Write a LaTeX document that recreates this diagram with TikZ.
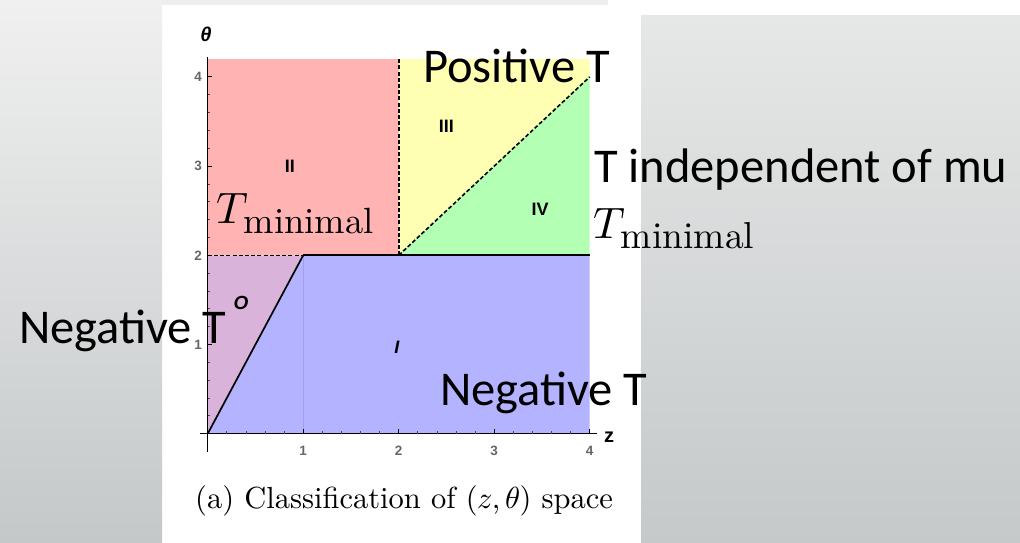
\documentclass[tikz,border=0pt]{standalone}
\usepackage{fontspec}
\newfontfamily\calfont{Carlito}
\newfontfamily\tickfont{Liberation Sans}
\newfontfamily\lmmath{latinmodern-math.otf}
\newfontfamily\lmten{lmroman10-regular.otf}
\definecolor{cO}{RGB}{217,179,217}
\definecolor{cI}{RGB}{179,179,255}
\definecolor{cII}{RGB}{255,179,179}
\definecolor{cIII}{RGB}{255,255,179}
\definecolor{cIV}{RGB}{179,255,179}
\definecolor{bgtop}{RGB}{240,240,240}
\definecolor{bgbot}{RGB}{196,200,201}
\definecolor{bgrtop}{RGB}{230,231,231}
\definecolor{bgrbot}{RGB}{197,201,202}
\definecolor{strip}{RGB}{238,238,238}
\definecolor{faint}{RGB}{160,160,240}
\begin{document}
\begin{tikzpicture}[x=1pt,y=-1pt,
  overlaytext/.style={font=\calfont\fontsize{48.5}{48.5}\selectfont, inner sep=0pt, anchor=base west},
  ticklab/.style={font=\tickfont\bfseries\fontsize{13.5}{13.5}\selectfont, text=black!60, inner sep=0pt},
  reglab/.style={font=\tickfont\bfseries\fontsize{18}{18}\selectfont, inner sep=0pt},
  bound/.style={line width=1.7pt, black},
  dbound/.style={line width=1.6pt, black, dash pattern=on 4pt off 2.2pt},
  axisline/.style={line width=1.5pt, black},
  tmin/.style={inner sep=0pt, anchor=base west}]
\useasboundingbox (0,0) rectangle (1020,543);
\fill[white] (0,0) rectangle (1020,543);
\shade[top color=bgtop, bottom color=bgbot] (0,0) rectangle (162,543);
\fill[strip] (162,0) rectangle (608,5);
\shade[top color=bgrtop, bottom color=bgrbot] (641,16) rectangle (1020,543);

\begin{scope}[shift={(207.7,433.7)}, x=95.5pt, y=89.2pt]
  \coordinate (p00) at (0,0);
  \coordinate (p12) at (1,2);
  \coordinate (p02) at (0,2);
  \coordinate (p42) at (4,2);
  \coordinate (p22) at (2,2);
  \coordinate (p2t) at (2,4.2);
  \coordinate (p44) at (4,4);
  \coordinate (p10) at (1,0);
  \coordinate (xs) at (-0.08,0);
  \coordinate (xe) at (4.08,0);
  \coordinate (ys) at (0,-0.2);
  \coordinate (ye) at (0,4.22);
  \fill[cO] (0,0) -- (1,2) -- (0,2) -- cycle;
  \fill[cI] (0,0) -- (4,0) -- (4,2) -- (1,2) -- cycle;
  \fill[cII] (0,2) rectangle (2,4.2);
  \fill[cIII] (2,2) -- (2,4.2) -- (4,4.2) -- (4,4) -- cycle;
  \fill[cIV] (2,2) -- (4,4) -- (4,2) -- cycle;
  \draw[faint, line width=0.6pt] (p10) -- (p12);
  \draw[dbound] (p02) -- (p12);
  \draw[bound] (p12) -- (p42);
  \draw[bound] (p00) -- (p12);
  \draw[dbound] (p22) -- (p2t);
  \draw[dbound] (p22) -- (p44);
  \draw[axisline] (xs) -- (xe);
  \draw[axisline] (ys) -- (ye);
  \foreach \k in {1,...,20} {
    \draw[line width=0.8pt, black!70] (\k/5,0) -- ++(0,2.5pt);
    \draw[line width=0.8pt, black!70] (0,\k/5) -- ++(2.5pt,0);
  }
  \foreach \i in {1,...,4} {
    \draw[line width=1pt] (\i,0) -- ++(0,4.5pt);
    \draw[line width=1pt] (0,\i) -- ++(4.5pt,0);
    \node[ticklab] (xl\i) at (\i,-0.19) {\i};
    \node[ticklab] (yl\i) at (-0.1,\i) {\i};
  }
  \node[reglab] (rII) at (0.86,3.0) {II};
  \node[reglab] (rIII) at (2.5,3.45) {III};
  \node[reglab] (rIV) at (3.48,2.52) {IV};
  \node[reglab, font=\tickfont\bfseries\itshape\fontsize{18}{18}\selectfont] (rI) at (1.98,0.97) {I};
  \node[reglab, font=\tickfont\bfseries\itshape\fontsize{19}{19}\selectfont] (rO) at (0.35,1.47) {O};
\end{scope}

\node[inner sep=0pt, font=\tickfont\bfseries\itshape\fontsize{20}{20}\selectfont] (thlab) at (206,34) {θ};
\node[inner sep=0pt, font=\tickfont\bfseries\fontsize{20}{20}\selectfont] (zlab) at (609,437) {z};

\node[anchor=base west, inner sep=0pt, font=\lmten\fontsize{30.5}{30.5}\selectfont] (cap) at (195,508) {(a) Classification of ({\lmmath 𝑧},\kern5pt{\lmmath 𝜃}) space};

\node[tmin] (tmin1) at (216,223) {{\lmmath\fontsize{44}{44}\selectfont 𝑇}\kern2pt\raisebox{-10pt}{\lmten\fontsize{36.5}{36.5}\selectfont minimal}};
\node[tmin] (tmin2) at (593,238) {{\lmmath\fontsize{44}{44}\selectfont 𝑇}\kern2pt\raisebox{-10pt}{\lmten\fontsize{37.5}{37.5}\selectfont minimal}};

\node[overlaytext] (pos) at (423,82) {Positive T};
\node[overlaytext] (indep) at (594,182) {T independent of mu};
\node[overlaytext] (negl) at (19,343) {Negative T};
\node[overlaytext] (negr) at (440,405) {Negative T};
\end{tikzpicture}
\end{document}
